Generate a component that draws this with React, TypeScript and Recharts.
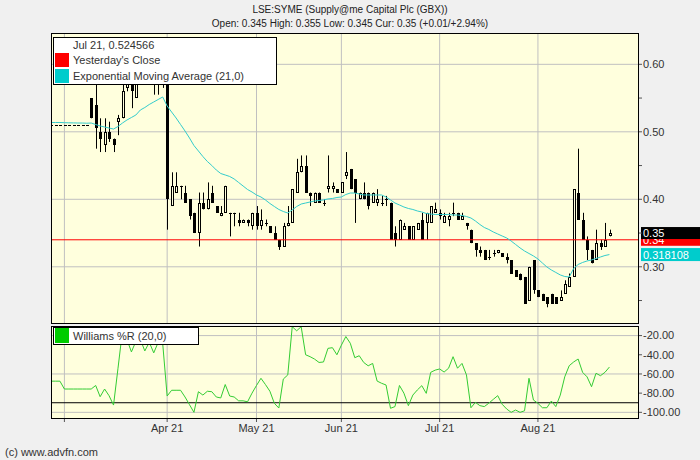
import React from 'react';
import {
  ComposedChart,
  Bar,
  Line,
  XAxis,
  YAxis,
  CartesianGrid,
  ReferenceLine,
} from 'recharts';

// trading day index: 0 = 1 Mar 2021, first bar is 24 Feb
const FIRST_DAY = -3;

const opens = [
  0.51, 0.51, 0.51, 0.51, 0.51, 0.51, 0.51, 0.51, 0.51,
  0.55, 0.54, 0.5, 0.48, 0.5, 0.49, 0.515, 0.52, 0.565, 0.59, 0.55, 0.585, 0.59, 0.58, 0.59, 0.58, 0.585,
  0.59, 0.39, 0.41, 0.42, 0.41, 0.4, 0.38, 0.35, 0.395, 0.385, 0.41, 0.39, 0.375, 0.38, 0.38, 0.38, 0.37, 0.365, 0.37, 0.36,
  0.38, 0.36, 0.365, 0.36, 0.35, 0.34, 0.33, 0.36, 0.365, 0.41, 0.44, 0.45, 0.41, 0.395, 0.41, 0.395, 0.415, 0.415, 0.415,
  0.41, 0.435, 0.445, 0.43, 0.4, 0.41, 0.41, 0.395, 0.395, 0.395, 0.4, 0.395, 0.35, 0.34, 0.355, 0.36, 0.34, 0.355, 0.37, 0.365, 0.365, 0.38,
  0.38, 0.365, 0.37, 0.38, 0.38, 0.37, 0.365, 0.355, 0.335, 0.325, 0.325, 0.315, 0.32, 0.32, 0.32, 0.315, 0.31, 0.295, 0.29, 0.285, 0.25, 0.31,
  0.265, 0.26, 0.255, 0.26, 0.255, 0.25, 0.26, 0.27, 0.285, 0.41, 0.37, 0.34, 0.325, 0.31, 0.335, 0.33, 0.345,
];

const highs = [
  0.51, 0.51, 0.51, 0.51, 0.51, 0.51, 0.51, 0.51, 0.51,
  0.55, 0.575, 0.52, 0.52, 0.515, 0.49, 0.525, 0.575, 0.6, 0.6, 0.6, 0.6, 0.61, 0.6, 0.61, 0.6, 0.6,
  0.595, 0.44, 0.44, 0.42, 0.42, 0.4, 0.38, 0.41, 0.41, 0.425, 0.42, 0.39, 0.39, 0.42, 0.38, 0.38, 0.38, 0.37, 0.37, 0.38,
  0.39, 0.385, 0.37, 0.36, 0.36, 0.34, 0.365, 0.39, 0.415, 0.46, 0.465, 0.465, 0.41, 0.41, 0.41, 0.4, 0.465, 0.425, 0.415,
  0.425, 0.47, 0.445, 0.43, 0.41, 0.425, 0.41, 0.41, 0.415, 0.405, 0.405, 0.395, 0.36, 0.37, 0.365, 0.36, 0.36, 0.365, 0.38, 0.38, 0.39, 0.395,
  0.385, 0.38, 0.38, 0.395, 0.38, 0.38, 0.365, 0.355, 0.335, 0.33, 0.325, 0.325, 0.325, 0.325, 0.32, 0.32, 0.31, 0.295, 0.29, 0.285, 0.3, 0.31,
  0.265, 0.26, 0.255, 0.26, 0.255, 0.265, 0.28, 0.29, 0.415, 0.475, 0.38, 0.345, 0.325, 0.355, 0.34, 0.365, 0.355,
];

const lows = [
  0.51, 0.51, 0.51, 0.51, 0.51, 0.51, 0.51, 0.51, 0.51,
  0.52, 0.475, 0.47, 0.47, 0.485, 0.47, 0.495, 0.52, 0.56, 0.535, 0.55, 0.57, 0.57, 0.57, 0.555, 0.555, 0.565,
  0.355, 0.39, 0.41, 0.4, 0.395, 0.37, 0.35, 0.33, 0.385, 0.385, 0.395, 0.38, 0.375, 0.38, 0.345, 0.36, 0.36, 0.365, 0.36, 0.355,
  0.355, 0.355, 0.36, 0.35, 0.34, 0.325, 0.33, 0.36, 0.365, 0.41, 0.44, 0.41, 0.39, 0.395, 0.395, 0.39, 0.41, 0.41, 0.41,
  0.41, 0.43, 0.415, 0.365, 0.4, 0.4, 0.385, 0.395, 0.39, 0.39, 0.39, 0.34, 0.33, 0.34, 0.355, 0.34, 0.34, 0.355, 0.34, 0.34, 0.365, 0.38,
  0.37, 0.365, 0.36, 0.375, 0.37, 0.37, 0.355, 0.335, 0.315, 0.315, 0.31, 0.31, 0.315, 0.32, 0.315, 0.305, 0.29, 0.285, 0.28, 0.245, 0.25, 0.26,
  0.255, 0.25, 0.24, 0.245, 0.245, 0.25, 0.26, 0.27, 0.285, 0.37, 0.34, 0.31, 0.305, 0.31, 0.325, 0.33, 0.345,
];

const closes = [
  0.51, 0.51, 0.51, 0.51, 0.51, 0.51, 0.51, 0.51, 0.51,
  0.52, 0.505, 0.49, 0.5, 0.49, 0.48, 0.52, 0.56, 0.59, 0.56, 0.585, 0.59, 0.58, 0.59, 0.58, 0.585,
  0.59, 0.4, 0.42, 0.42, 0.42, 0.395, 0.375, 0.35, 0.395, 0.385, 0.4, 0.395, 0.38, 0.38, 0.42, 0.38, 0.38, 0.365, 0.37, 0.365,
  0.38, 0.36, 0.37, 0.365, 0.35, 0.34, 0.33, 0.36, 0.365, 0.415, 0.44, 0.45, 0.41, 0.405, 0.41, 0.395, 0.395, 0.42, 0.42, 0.41,
  0.425, 0.44, 0.415, 0.41, 0.41, 0.4, 0.39, 0.41, 0.4, 0.395, 0.4, 0.34, 0.34, 0.37, 0.36, 0.34, 0.36, 0.365, 0.34, 0.38, 0.39, 0.385,
  0.375, 0.375, 0.375, 0.38, 0.37, 0.375, 0.36, 0.335, 0.325, 0.32, 0.31, 0.315, 0.32, 0.325, 0.315, 0.31, 0.29, 0.285, 0.28, 0.245, 0.3, 0.265,
  0.255, 0.25, 0.245, 0.245, 0.245, 0.255, 0.275, 0.285, 0.415, 0.37, 0.34, 0.325, 0.305, 0.335, 0.33, 0.34, 0.35,
];

// Exponential Moving Average (21,0)
const ema = [
  0.5138, 0.5138, 0.5138, 0.5135, 0.5133, 0.5132, 0.513, 0.513, 0.5127,
  0.513, 0.5108, 0.5086, 0.5071, 0.5056, 0.5041, 0.5079, 0.513, 0.5175, 0.5212, 0.5249, 0.5323, 0.536, 0.5405, 0.5442, 0.5479, 0.5516,
  0.5382, 0.5293, 0.5205, 0.5108, 0.5012, 0.4908, 0.4797, 0.4716, 0.4634, 0.456, 0.4501, 0.4434, 0.4382, 0.436, 0.4338, 0.4301, 0.4249, 0.4197, 0.4145, 0.4108,
  0.4064, 0.4034, 0.399, 0.3938, 0.3893, 0.3849, 0.3819, 0.3797, 0.3842, 0.3893, 0.393, 0.3945, 0.396, 0.3975, 0.3982, 0.399, 0.4005, 0.4012, 0.4027,
  0.4034, 0.4071, 0.4093, 0.4093, 0.4079, 0.4064, 0.4064, 0.4064, 0.4064, 0.4064, 0.4034, 0.399, 0.3945, 0.3916, 0.3886, 0.3864, 0.3849, 0.3827, 0.3812, 0.379, 0.3782, 0.3775,
  0.3775, 0.3775, 0.3775, 0.3767, 0.3767, 0.376, 0.3745, 0.3723, 0.3679, 0.3627, 0.3582, 0.3553, 0.3516, 0.3486, 0.3456, 0.3427, 0.3382, 0.3331, 0.3279, 0.3234, 0.3197, 0.316,
  0.3116, 0.3056, 0.2997, 0.2953, 0.2916, 0.2879, 0.2856, 0.2849, 0.2975, 0.3034, 0.3064, 0.3086, 0.3101, 0.3123, 0.3145, 0.3167, 0.3181,
];

// Williams %R (20,0)
const willR = [
  -67.5, -67.5, -67.5, -75.7, -75.7, -75.7, -75.7, -75.7, -75.7,
  -75.7, -72, -83.7, -75.7, -82.7, -92.4, -54, -15, -24, -37, -26, -24, -36, -27, -38, -27, -28,
  -83, -77, -77, -77, -84, -92, -100, -78.5, -82, -78, -78.5, -84, -85, -71, -83, -84, -88, -88, -89, -80,
  -72, -64.5, -71, -78, -90.6, -95.5, -65.3, -61, -10.7, -15, -10.7, -40, -42, -44.5, -48, -47.5, -33.3, -32.6, -40,
  -30, -21, -28, -43, -41, -48, -51.5, -49, -67.4, -69.7, -71.5, -95.8, -94, -72, -80, -93, -82, -76.7, -72.2, -80.2, -58.3, -56,
  -54.8, -58, -54, -42, -54, -49, -61, -95.2, -89.6, -93, -94, -90.5, -86.5, -82.6, -91.6, -96.5, -100, -97.6, -100, -98.4, -64.5, -87.2,
  -90.6, -95.2, -95.2, -88.2, -94, -82, -63, -51.4, -47.5, -44.4, -58.3, -63, -73.3, -59.3, -61.8, -58.3, -52.8,
];

const monthTicks = [0, 23, 43, 62, 84, 106];
const monthLabels = ['', 'Apr 21', 'May 21', 'Jun 21', 'Jul 21', 'Aug 21'];
const priceTicks = [0.25, 0.3, 0.35, 0.4, 0.45, 0.5, 0.55, 0.6];
const priceGrid = [0.3, 0.4, 0.5, 0.6];
const wrTicks = [-100, -80, -60, -40, -20];

const yesterdayClose = 0.34;
const lastClose = 0.35;
const lastEma = 0.318108;

const data = closes.map((c, k) => ({
  t: FIRST_DAY + k,
  range: [lows[k], highs[k]],
  open: opens[k],
  high: highs[k],
  low: lows[k],
  close: c,
  ema: ema[k],
  wr: willR[k],
}));

const FONT = '"Liberation Sans", Arial, sans-serif';
const X_DOMAIN: [number, number] = [-3, 128.4];

function Candle(props: any) {
  const { x, y, width, height, payload } = props;
  if (x == null || y == null || !payload) return null;
  const { open, close, high, low } = payload;
  const px = Math.round(x + width / 2);
  const ratio = high > low ? height / (high - low) : 0;
  const yOf = (v: number) => y + (high - v) * ratio;
  const top = Math.round(yOf(Math.max(open, close)));
  const bot = Math.round(yOf(Math.min(open, close)));
  const up = close > open;
  return (
    <g>
      {high > low && (
        <line x1={px + 0.5} x2={px + 0.5} y1={y} y2={y + height} stroke="#000" strokeWidth={1} />
      )}
      {bot - top < 1 ? (
        <rect x={px - 1} y={top} width={3} height={1} fill="#000" />
      ) : up ? (
        <rect x={px - 0.5} y={top + 0.5} width={2} height={bot - top - 1} fill="#FFFFDD" stroke="#000" strokeWidth={1} />
      ) : (
        <rect x={px - 1} y={top} width={3} height={bot - top} fill="#000" />
      )}
    </g>
  );
}

function PriceTag(props: any) {
  const { viewBox, text, bg, h = 12 } = props;
  if (!viewBox) return null;
  const left = viewBox.x + viewBox.width + 3;
  const cy = viewBox.y;
  return (
    <g>
      <rect x={left} y={cy - h / 2} width={62} height={h} fill={bg} />
      <text x={left + 2} y={cy + 4} fill="#fff" fontSize={11} fontFamily={FONT}>
        {text}
      </text>
    </g>
  );
}

const axisTick = { fontSize: 11, fill: '#333', fontFamily: FONT };

export default function App() {
  return (
    <div
      style={{
        position: 'absolute',
        left: 0,
        top: 0,
        width: 700,
        height: 460,
        background: '#F0F0F0',
        fontFamily: FONT,
        overflow: 'hidden',
      }}
    >
      <div style={{ position: 'absolute', top: 3, width: 700, textAlign: 'center', fontSize: 10, lineHeight: '14px', color: '#222' }}>
        LSE:SYME (Supply@me Capital Plc (GBX))
      </div>
      <div style={{ position: 'absolute', top: 17, width: 700, textAlign: 'center', fontSize: 10, lineHeight: '14px', color: '#222' }}>
        Open: 0.345 High: 0.355 Low: 0.345 Cur: 0.35 (+0.01/+2.94%)
      </div>

      <div style={{ position: 'absolute', left: 0, top: 0 }}>
        <ComposedChart width={700} height={324} data={data} margin={{ top: 33, right: 7, bottom: 1, left: 51 }}>
          <CartesianGrid
            fill="#FFFFDD"
            stroke="#C0C0C0"
            horizontalValues={priceGrid}
            verticalValues={monthTicks}
          />
          <XAxis type="number" dataKey="t" domain={X_DOMAIN} ticks={monthTicks} hide allowDataOverflow />
          <YAxis
            orientation="right"
            domain={[0.2167, 0.6464]}
            ticks={priceTicks}
            allowDataOverflow
            width={55}
            axisLine={false}
            tickSize={4}
            tickMargin={1}
            tickLine={{ stroke: '#555' }}
            tick={axisTick}
            tickFormatter={(v: number) => (Math.round(v * 100) % 10 === 0 ? v.toFixed(2) : '')}
          />
          <ReferenceLine y={yesterdayClose} stroke="#FF0000" strokeWidth={1} />
          <Bar dataKey="range" shape={(p: any) => <Candle {...p} />} barSize={3} isAnimationActive={false} />
          <Line type="linear" dataKey="ema" stroke="#33CCCC" strokeWidth={1} dot={false} isAnimationActive={false} />
          <ReferenceLine y={yesterdayClose} stroke="none" label={<PriceTag text="0.34" bg="#FF0000" />} />
          <ReferenceLine y={lastClose} stroke="none" label={<PriceTag text="0.35" bg="#000000" />} />
          <ReferenceLine y={lastEma} stroke="none" label={<PriceTag text="0.318108" bg="#00CCCC" h={13} />} />
        </ComposedChart>
      </div>

      <div style={{ position: 'absolute', left: 0, top: 326 }}>
        <ComposedChart width={700} height={134} data={data} margin={{ top: 0, right: 7, bottom: 12, left: 51 }}>
          <CartesianGrid
            fill="#FFFFDD"
            stroke="#C0C0C0"
            horizontalValues={wrTicks}
            verticalValues={monthTicks}
          />
          <XAxis
            type="number"
            dataKey="t"
            domain={X_DOMAIN}
            ticks={monthTicks}
            allowDataOverflow
            height={30}
            axisLine={false}
            tickSize={4}
            tickMargin={2}
            tickLine={{ stroke: '#555' }}
            tick={axisTick}
            tickFormatter={(v: number) => monthLabels[monthTicks.indexOf(v)] ?? ''}
          />
          <YAxis
            orientation="right"
            domain={[-105.9, -10]}
            ticks={wrTicks}
            allowDataOverflow
            width={55}
            axisLine={false}
            tickSize={4}
            tickMargin={1}
            tickLine={{ stroke: '#555' }}
            tick={axisTick}
            tickFormatter={(v: number) => v.toFixed(2)}
          />
          <ReferenceLine y={-90} stroke="#000" strokeWidth={1} />
          <Line type="linear" dataKey="wr" stroke="#33CC33" strokeWidth={1} dot={false} isAnimationActive={false} />
        </ComposedChart>
      </div>

      {/* panel borders */}
      <div style={{ position: 'absolute', left: 51, top: 33, width: 588, height: 291, border: '1px solid #000', boxSizing: 'border-box', pointerEvents: 'none' }} />
      <div style={{ position: 'absolute', left: 51, top: 326, width: 588, height: 93, border: '1px solid #000', boxSizing: 'border-box', pointerEvents: 'none' }} />

      {/* price panel legend */}
      <div style={{ position: 'absolute', left: 53, top: 37, width: 224, height: 48, background: '#fff', border: '1px solid #000', boxSizing: 'border-box', fontSize: 11, color: '#333' }}>
        <div style={{ position: 'absolute', left: 19, top: 0, lineHeight: '15px', whiteSpace: 'nowrap' }}>Jul 21, 0.524566</div>
        <div style={{ position: 'absolute', left: 1, top: 15, width: 14, height: 14, background: '#FF0000' }} />
        <div style={{ position: 'absolute', left: 19, top: 15, lineHeight: '15px', whiteSpace: 'nowrap' }}>Yesterday's Close</div>
        <div style={{ position: 'absolute', left: 1, top: 31, width: 14, height: 14, background: '#00CCCC' }} />
        <div style={{ position: 'absolute', left: 19, top: 31, lineHeight: '15px', whiteSpace: 'nowrap' }}>Exponential Moving Average (21,0)</div>
      </div>

      {/* indicator legend */}
      <div style={{ position: 'absolute', left: 53, top: 327, width: 146, height: 18, background: '#fff', border: '1px solid #000', boxSizing: 'border-box', fontSize: 11, color: '#333' }}>
        <div style={{ position: 'absolute', left: 1, top: 0, width: 14, height: 15, background: '#00CC00' }} />
        <div style={{ position: 'absolute', left: 19, top: 0, lineHeight: '16px', whiteSpace: 'nowrap' }}>Williams %R (20,0)</div>
      </div>

      <div style={{ position: 'absolute', left: 5, top: 445, fontSize: 11, lineHeight: '14px', color: '#333' }}>
        (c) www.advfn.com
      </div>
    </div>
  );
}
